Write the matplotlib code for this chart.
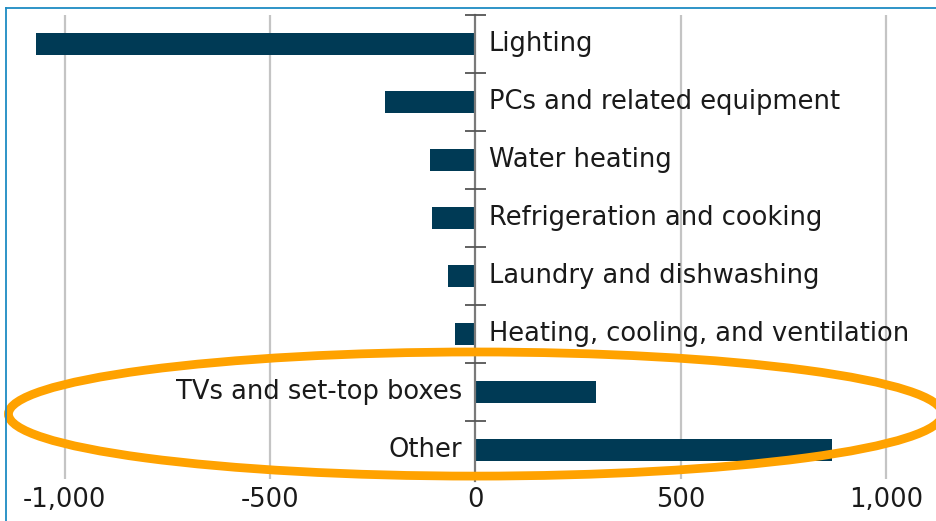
import matplotlib
matplotlib.use("Agg")
import matplotlib.pyplot as plt
from matplotlib.patches import Ellipse
from matplotlib.lines import Line2D

# change in electricity use by end use
categories = ["Lighting", "PCs and related equipment", "Water heating",
              "Refrigeration and cooking", "Laundry and dishwashing",
              "Heating, cooling, and ventilation", "TVs and set-top boxes", "Other"]
values = [-1070, -220, -110, -105, -66, -50, 293, 868]
xticks = [-1000, -500, 0, 500, 1000]
xticklabels = ["-1,000", "-500", "0", "500", "1,000"]

bar_color = "#003a55"
W, H = 936, 521
fs = 18.5

fig = plt.figure(figsize=(W / 100, H / 100), dpi=100)
ax = fig.add_axes([7 / W, (H - 479) / H, (W - 7) / W, 464 / H])

n = len(categories)
ypos = list(range(n))
ax.barh(ypos, values, height=0.37, color=bar_color, zorder=3)

ax.set_xlim(-1141, 1122)
ax.set_ylim(n - 0.5, -0.5)

# grid + zero axis
for t in xticks:
    if t != 0:
        ax.axvline(t, color="#c4c4c4", lw=1.6, zorder=1)
ax.axvline(0, color="#7a7a7a", lw=1.6, zorder=4, ymin=-0.005, clip_on=False)
# category separators on the zero axis
ax.hlines([i - 0.5 for i in range(n + 1)], -25, 25, color="#555555", lw=1.3, zorder=4,
          clip_on=False)

for y, v, lab in zip(ypos, values, categories):
    if v < 0:
        ax.text(32, y, lab, ha="left", va="center", fontsize=fs, color="#1a1a1a")
    else:
        ax.text(-32, y, lab, ha="right", va="center", fontsize=fs, color="#1a1a1a")

ax.set_xticks(xticks)
ax.set_xticklabels(xticklabels, fontsize=fs, color="#1a1a1a")
ax.tick_params(axis="x", length=0, pad=6)
ax.set_yticks([])
for s in ax.spines.values():
    s.set_visible(False)

# highlight ellipse around the two growing end uses
ax.add_patch(Ellipse((0, 6.38), 2275, 2.14, fill=False, ec="#ffa200", lw=6.3,
                     zorder=5, clip_on=False))

# slide frame
fig.add_artist(Line2D([6 / W, 6 / W], [0, 1 - 8 / H], color="#1e8bc3", lw=1.3))
fig.add_artist(Line2D([6 / W, 1], [1 - 8 / H, 1 - 8 / H], color="#1e8bc3", lw=1.3))

fig.savefig("out.png", dpi=100)
